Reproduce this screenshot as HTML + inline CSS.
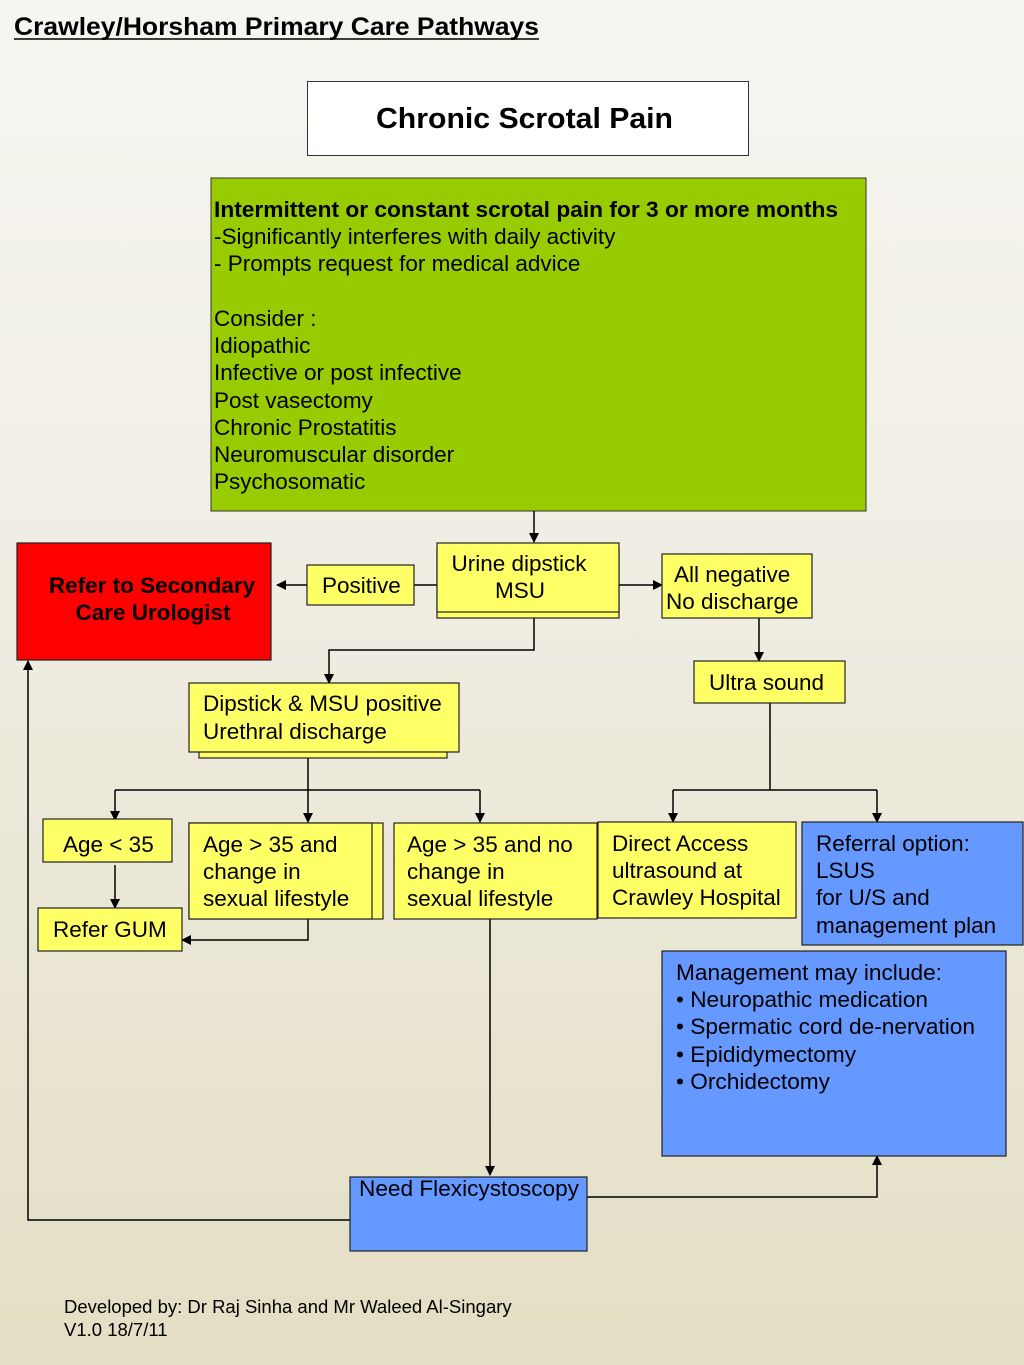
<!DOCTYPE html>
<html><head><meta charset="utf-8"><style>
html,body{margin:0;padding:0;}
body{width:1024px;height:1365px;overflow:hidden;background:linear-gradient(#f6f5f0,#f0eee4 40%,#e4dec4);}
svg{display:block;font-family:"Liberation Sans",sans-serif;}
</style></head><body>
<svg width="1024" height="1365" viewBox="0 0 1024 1365" xmlns="http://www.w3.org/2000/svg">
<defs><marker id="a" markerWidth="10" markerHeight="10" refX="9" refY="5" orient="auto" markerUnits="userSpaceOnUse"><path d="M0,0 L10,5 L0,10 z" fill="#000"/></marker></defs>
<text x="14" y="35" font-size="25" font-weight="bold" textLength="525" lengthAdjust="spacingAndGlyphs">Crawley/Horsham Primary Care Pathways</text>
<line x1="14" y1="39" x2="539" y2="39" stroke="#000" stroke-width="1.5"/>
<rect x="307.5" y="81.5" width="441" height="74" fill="#fff" stroke="#333"/>
<text x="376" y="128" font-size="29" font-weight="bold" textLength="297" lengthAdjust="spacingAndGlyphs">Chronic Scrotal Pain</text>
<rect x="211" y="178" width="655" height="333" fill="#99cc00" stroke="#333"/>
<g font-size="22.5">
<text x="214" y="217" font-weight="bold" textLength="624" lengthAdjust="spacingAndGlyphs">Intermittent or constant scrotal pain for 3 or more months</text>
<text x="214" y="244">-Significantly interferes with daily activity</text>
<text x="214" y="271">- Prompts request for medical advice</text>
<text x="214" y="326">Consider :</text>
<text x="214" y="353">Idiopathic</text>
<text x="214" y="380">Infective or post infective</text>
<text x="214" y="408">Post vasectomy</text>
<text x="214" y="435">Chronic Prostatitis</text>
<text x="214" y="462">Neuromuscular disorder</text>
<text x="214" y="489">Psychosomatic</text>
</g>
<g stroke="#000" stroke-width="1.5" fill="none">
<line x1="534" y1="511" x2="534" y2="542" marker-end="url(#a)"/>
<line x1="437" y1="585" x2="277" y2="585" marker-end="url(#a)"/>
<line x1="619" y1="585" x2="662" y2="585" marker-end="url(#a)"/>
<line x1="759" y1="618" x2="759" y2="661" marker-end="url(#a)"/>
<polyline points="534,618 534,650 329,650 329,683" marker-end="url(#a)"/>
<line x1="770" y1="703" x2="770" y2="790"/>
<polyline points="673,790 877,790"/>
<line x1="673" y1="790" x2="673" y2="822" marker-end="url(#a)"/>
<line x1="877" y1="790" x2="877" y2="822" marker-end="url(#a)"/>
<line x1="308" y1="758" x2="308" y2="822" marker-end="url(#a)"/>
<polyline points="115,790 480,790"/>
<line x1="115" y1="790" x2="115" y2="820" marker-end="url(#a)"/>
<line x1="480" y1="790" x2="480" y2="822" marker-end="url(#a)"/>
<line x1="115" y1="865" x2="115" y2="908" marker-end="url(#a)"/>
<polyline points="308,919 308,940 182,940" marker-end="url(#a)"/>
<line x1="490" y1="919" x2="490" y2="1175" marker-end="url(#a)"/>
<polyline points="587,1197 877,1197 877,1156" marker-end="url(#a)"/>
<polyline points="350,1220 28,1220 28,661" marker-end="url(#a)"/>
</g>
<g stroke="#222" stroke-width="1.2">
<rect x="17" y="543" width="254" height="117" fill="#ff0000"/>
<rect x="307" y="565" width="107" height="40" fill="#ffff66"/>
<rect x="437" y="549" width="182" height="69" fill="#ffff66"/>
<rect x="437" y="543" width="182" height="69" fill="#ffff66"/>
<rect x="662" y="554" width="150" height="64" fill="#ffff66"/>
<rect x="694" y="661" width="151" height="42" fill="#ffff66"/>
<rect x="199" y="689" width="248" height="69" fill="#ffff66"/>
<rect x="189" y="683" width="270" height="69" fill="#ffff66"/>
<rect x="43" y="819" width="129" height="43" fill="#ffff66"/>
<rect x="189" y="823" width="194" height="96" fill="#ffff66"/>
<rect x="189" y="823" width="183" height="96" fill="#ffff66"/>
<rect x="394" y="823" width="203" height="96" fill="#ffff66"/>
<rect x="598" y="822" width="198" height="96" fill="#ffff66"/>
<rect x="802" y="822" width="221" height="123" fill="#6699ff"/>
<rect x="38" y="908" width="144" height="43" fill="#ffff66"/>
<rect x="662" y="951" width="344" height="205" fill="#6699ff"/>
<rect x="350" y="1177" width="237" height="74" fill="#6699ff"/>
</g>
<g font-size="22.5">
<text x="152" y="593" font-weight="bold" text-anchor="middle">Refer to Secondary</text>
<text x="153" y="620" font-weight="bold" text-anchor="middle">Care Urologist</text>
<text x="322" y="593">Positive</text>
<text x="519" y="571" text-anchor="middle">Urine dipstick</text>
<text x="520" y="598" text-anchor="middle">MSU</text>
<text x="674" y="582">All negative</text>
<text x="666" y="609">No discharge</text>
<text x="709" y="690">Ultra sound</text>
<text x="203" y="711">Dipstick &amp; MSU positive</text>
<text x="203" y="739">Urethral discharge</text>
<text x="63" y="852">Age &lt; 35</text>
<text x="203" y="852">Age &gt; 35 and</text>
<text x="203" y="879">change in</text>
<text x="203" y="906">sexual lifestyle</text>
<text x="407" y="852">Age &gt; 35 and no</text>
<text x="407" y="879">change in</text>
<text x="407" y="906">sexual lifestyle</text>
<text x="612" y="851">Direct Access</text>
<text x="612" y="878">ultrasound at</text>
<text x="612" y="905">Crawley Hospital</text>
<text x="816" y="851">Referral option:</text>
<text x="816" y="878">LSUS</text>
<text x="816" y="905">for U/S and</text>
<text x="816" y="933">management plan</text>
<text x="53" y="937">Refer GUM</text>
<text x="676" y="980" textLength="266" lengthAdjust="spacingAndGlyphs">Management may include:</text>
<text x="676" y="1007" textLength="252" lengthAdjust="spacingAndGlyphs">• Neuropathic medication</text>
<text x="676" y="1034" textLength="299" lengthAdjust="spacingAndGlyphs">• Spermatic cord de-nervation</text>
<text x="676" y="1062" textLength="180" lengthAdjust="spacingAndGlyphs">• Epididymectomy</text>
<text x="676" y="1089" textLength="154" lengthAdjust="spacingAndGlyphs">• Orchidectomy</text>
<text x="359" y="1196" textLength="220" lengthAdjust="spacingAndGlyphs">Need Flexicystoscopy</text>
</g>
<text x="64" y="1313" font-size="18.5">Developed by: Dr Raj Sinha and Mr Waleed Al-Singary</text>
<text x="64" y="1336" font-size="18.5">V1.0 18/7/11</text>
</svg>
</body></html>
